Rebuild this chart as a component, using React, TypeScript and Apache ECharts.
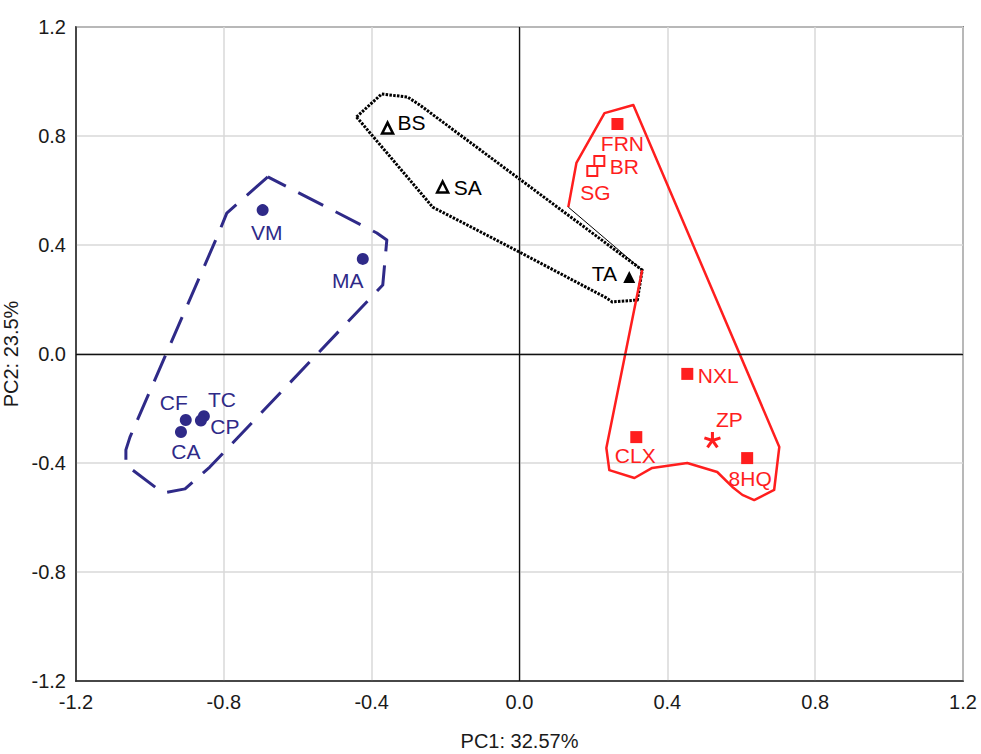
import React, { useEffect, useRef } from "react";
import * as echarts from "echarts";

// ---- data ----
const xTicks = [-1.2, -0.8, -0.4, 0.0, 0.4, 0.8, 1.2];
const yTicks = [-1.2, -0.8, -0.4, 0.0, 0.4, 0.8, 1.2];

const blueNames = ["VM", "MA", "CF", "TC", "CP", "CA"];
const blueX = [-0.695, -0.424, -0.903, -0.854, -0.862, -0.916];
const blueY = [0.528, 0.349, -0.242, -0.228, -0.244, -0.286];

const blackNames = ["BS", "SA", "TA"];
const blackX = [-0.357, -0.208, 0.297];
const blackY = [0.829, 0.613, 0.283];
const blackOpen = [true, true, false];

const redNames = ["FRN", "BR", "SG", "NXL", "CLX", "8HQ", "ZP"];
const redX = [0.265, 0.216, 0.197, 0.454, 0.316, 0.616, 0.522];
const redY = [0.844, 0.708, 0.672, -0.073, -0.305, -0.382, -0.316];
const redKind = ["filled", "open", "open", "filled", "filled", "filled", "star"];

const blueHullX = [-0.681, -0.792, -0.816, -1.054, -1.065, -1.065, -0.965, -0.905, -0.838, -0.37, -0.359, -0.386, -0.681];
const blueHullY = [0.65, 0.517, 0.437, -0.305, -0.352, -0.407, -0.51, -0.495, -0.415, 0.253, 0.418, 0.444, 0.65];

const blackHullX = [-0.441, -0.373, -0.303, -0.27, 0.332, 0.319, 0.251, 0.235, 0.0, -0.235, -0.251, -0.441];
const blackHullY = [0.87, 0.954, 0.943, 0.914, 0.308, 0.198, 0.191, 0.206, 0.374, 0.539, 0.565, 0.87];

const redHullX = [0.132, 0.154, 0.23, 0.308, 0.703, 0.689, 0.635, 0.603, 0.576, 0.535, 0.454, 0.359, 0.311, 0.243, 0.235, 0.332];
const redHullY = [0.539, 0.701, 0.884, 0.914, -0.341, -0.499, -0.536, -0.517, -0.488, -0.433, -0.4, -0.418, -0.455, -0.426, -0.345, 0.308];
const redCloseX = [0.332, 0.132];
const redCloseY = [0.308, 0.539];

// ---- styling ----
const BLUE = "#2f2a88";
const RED = "#ff1e1e";
const BLACK = "#000000";
const TEXT = "#1a1a1a";
const FONT = "'Liberation Sans', Arial, sans-serif";

const labelOffsets: Record<string, [number, number]> = {
  VM: [4, 22],
  MA: [-15, 22],
  CF: [-12, -17],
  TC: [18, -17],
  CP: [24, 6],
  CA: [5, 20],
  BS: [24, -6],
  SA: [25, 1],
  TA: [-25, -3],
  FRN: [5, 19],
  BR: [25, 5],
  SG: [3, 22],
  NXL: [31, 2],
  ZP: [17, -21],
  CLX: [-1, 18],
  "8HQ": [3, 20],
};

function asteriskPath(): string {
  const arms = 5;
  const len = 10;
  const hw = 1.8;
  let d = "";
  for (let k = 0; k < arms; k++) {
    const a = ((-90 + k * 72) * Math.PI) / 180;
    const ux = Math.cos(a), uy = Math.sin(a);
    const px = -uy * hw, py = ux * hw;
    const pts = [
      [px, py],
      [px + ux * len, py + uy * len],
      [-px + ux * len, -py + uy * len],
      [-px, -py],
    ];
    d += "M" + pts.map((p) => `${(p[0] + 12).toFixed(2)} ${(p[1] + 12).toFixed(2)}`).join(" L") + " Z ";
  }
  return "path://" + d.trim();
}

function lbl(name: string, color: string) {
  return {
    show: true,
    formatter: name,
    position: "inside" as const,
    offset: labelOffsets[name] || [0, 0],
    color,
    opacity: 1,
    fontSize: 21,
    fontFamily: FONT,
  };
}

function zip(xs: number[], ys: number[]) {
  return xs.map((x, i) => [x, ys[i]]);
}

export default function App() {
  const ref = useRef<HTMLDivElement>(null);
  useEffect(() => {
    if (!ref.current) return;
    const chart = echarts.init(ref.current, undefined, { renderer: "svg" });

    const hull = (xs: number[], ys: number[], color: string, width: number, type: any, z: number) => ({
      type: "line",
      data: zip(xs, ys),
      showSymbol: false,
      symbol: "none",
      silent: true,
      z,
      lineStyle: { color, width, type, cap: "butt", join: "round", opacity: 1 },
    });

    const blueData = blueNames.map((n, i) => ({
      value: [blueX[i], blueY[i]],
      symbol: "circle",
      symbolSize: 12,
      itemStyle: { color: BLUE, opacity: 1 },
      label: lbl(n, BLUE),
    }));
    const blackData = blackNames.map((n, i) => ({
      value: [blackX[i], blackY[i]],
      symbol: "triangle",
      symbolSize: blackOpen[i] ? 11 : 12,
      itemStyle: blackOpen[i]
        ? { color: "#ffffff", borderColor: BLACK, borderWidth: 2.5, opacity: 1 }
        : { color: BLACK, opacity: 1 },
      label: lbl(n, BLACK),
    }));
    const star = asteriskPath();
    const redData = redNames.map((n, i) => {
      const k = redKind[i];
      const base: any = { value: [redX[i], redY[i]], label: lbl(n, RED) };
      if (k === "filled") {
        base.symbol = "rect";
        base.symbolSize = 12;
        base.itemStyle = { color: RED, opacity: 1 };
      } else if (k === "open") {
        base.symbol = "rect";
        base.symbolSize = 10;
        base.itemStyle = { color: "rgba(255,255,255,0)", borderColor: RED, borderWidth: 2, opacity: 1 };
      } else {
        base.symbol = star;
        base.symbolSize = 17;
        base.symbolKeepAspect = true;
        base.itemStyle = { color: RED, opacity: 1 };
      }
      return base;
    });

    chart.setOption({
      animation: false,
      backgroundColor: "#ffffff",
      grid: {
        left: 76,
        right: 18,
        top: 27,
        bottom: 73,
        containLabel: false,
        outerBoundsMode: "none",
        show: true,
        borderColor: "#222",
        borderWidth: 1.5,
        backgroundColor: "transparent",
      },
      xAxis: {
        type: "value",
        min: xTicks[0],
        max: xTicks[xTicks.length - 1],
        interval: 0.4,
        name: "PC1: 32.57%",
        nameLocation: "middle",
        nameGap: 50,
        nameTextStyle: { fontSize: 20, color: TEXT, fontFamily: FONT },
        axisLine: { show: true, onZero: false, lineStyle: { color: "#222", width: 1.5 } },
        axisTick: { show: false },
        axisLabel: {
          fontSize: 20,
          color: TEXT,
          fontFamily: FONT,
          margin: 11,
          formatter: (v: number) => v.toFixed(1),
        },
        splitLine: { show: true, lineStyle: { color: "#d9d9d9", width: 1.5 } },
      },
      yAxis: {
        type: "value",
        min: yTicks[0],
        max: yTicks[yTicks.length - 1],
        interval: 0.4,
        name: "PC2: 23.5%",
        nameLocation: "middle",
        nameGap: 52,
        nameTextStyle: { fontSize: 20, color: TEXT, fontFamily: FONT },
        axisLine: { show: true, onZero: false, lineStyle: { color: "#222", width: 1.5 } },
        axisTick: { show: false },
        axisLabel: {
          fontSize: 20,
          color: TEXT,
          fontFamily: FONT,
          margin: 10,
          formatter: (v: number) => v.toFixed(1),
        },
        splitLine: { show: true, lineStyle: { color: "#d9d9d9", width: 1.5 } },
      },
      series: [
        {
          type: "line",
          data: [],
          silent: true,
          z: 1,
          markLine: {
            silent: true,
            symbol: ["none", "none"],
            label: { show: false },
            lineStyle: { color: "#111", width: 1.3, type: "solid", opacity: 1 },
            data: [{ xAxis: 0 }, { yAxis: 0 }],
          },
        },
        hull(blueHullX, blueHullY, BLUE, 3, [28, 14], 2),
        hull(blackHullX, blackHullY, BLACK, 3, [2.5, 1.3], 2),
        hull(redHullX, redHullY, RED, 2.5, "solid", 2),
        hull(redCloseX, redCloseY, BLACK, 1, "solid", 2),
        { type: "scatter", data: blueData, z: 5 },
        { type: "scatter", data: blackData, z: 5 },
        { type: "scatter", data: redData, z: 5 },
      ],
    });
    return () => chart.dispose();
  }, []);

  return (
    <div
      ref={ref}
      style={{ position: "fixed", left: 0, top: 0, width: 981, height: 754, background: "#fff" }}
    />
  );
}
